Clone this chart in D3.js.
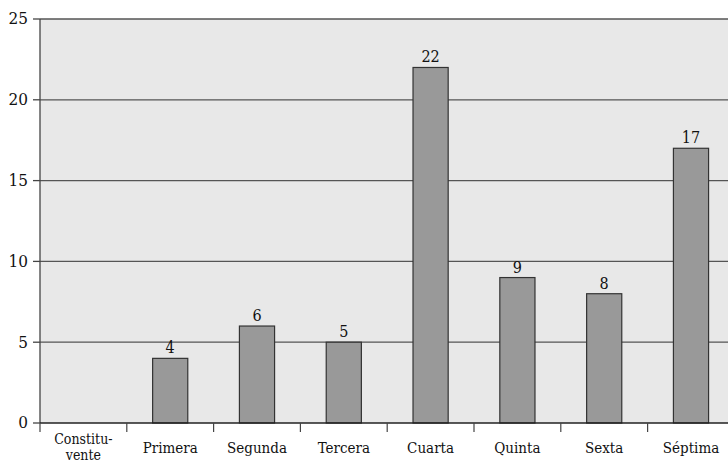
<!DOCTYPE html>
<html>
<head>
<meta charset="utf-8">
<script src="https://cdn.jsdelivr.net/npm/d3@7"></script>
<style>
  body { margin: 0; background: #fff; }
  svg text { font-stretch: condensed; }
</style>
</head>
<body>
<div id="chart"></div>
<script>
// Datos del gráfico
const categories = ["Constituvente", "Primera", "Segunda", "Tercera", "Cuarta", "Quinta", "Sexta", "Séptima"];
const categoryLabels = [["Constitu-", "vente"], ["Primera"], ["Segunda"], ["Tercera"], ["Cuarta"], ["Quinta"], ["Sexta"], ["Séptima"]];
const values = [0, 4, 6, 5, 22, 9, 8, 17];
const yTicks = [0, 5, 10, 15, 20, 25];

const width = 728, height = 463;
const margin = { top: 19, left: 40, bottom: 40 };
const plotRight = 734.4; // el área se corta a la derecha
const serif = "'DejaVu Serif Condensed', 'DejaVu Serif', serif";

const svg = d3.select("#chart").append("svg")
    .attr("width", width)
    .attr("height", height)
    .attr("font-family", serif);

const x = d3.scaleBand()
    .domain(categories)
    .range([margin.left, plotRight])
    .paddingInner(0.595)
    .paddingOuter(0.2975);

const step = x.step();

const y = d3.scaleLinear()
    .domain([0, 25])
    .range([height - margin.bottom, margin.top]);

// Fondo del área de trazado
svg.append("rect")
    .attr("x", margin.left)
    .attr("y", y(25))
    .attr("width", plotRight - margin.left)
    .attr("height", y(0) - y(25))
    .attr("fill", "#e8e8e8");

// Líneas de cuadrícula
svg.append("g")
    .selectAll("line")
    .data(yTicks.filter(d => d > 0))
    .join("line")
    .attr("x1", margin.left)
    .attr("x2", plotRight)
    .attr("y1", d => y(d))
    .attr("y2", d => y(d))
    .attr("stroke", "#555")
    .attr("stroke-width", 1.3);

const barData = values.map((v, i) => ({ cat: categories[i], v })).filter(d => d.v > 0);

// Barras
svg.append("g")
    .selectAll("rect")
    .data(barData)
    .join("rect")
    .attr("x", d => x(d.cat))
    .attr("y", d => y(d.v))
    .attr("width", x.bandwidth())
    .attr("height", d => y(0) - y(d.v))
    .attr("fill", "#999999")
    .attr("stroke", "#333")
    .attr("stroke-width", 1.2);

// Etiquetas de valor
svg.append("g")
    .selectAll("text")
    .data(barData)
    .join("text")
    .attr("x", d => x(d.cat) + x.bandwidth() / 2)
    .attr("y", d => y(d.v) - 5)
    .attr("text-anchor", "middle")
    .attr("font-size", 16)
    .attr("fill", "#111")
    .text(d => d.v);

// Eje Y
const yAxis = svg.append("g");
yAxis.append("line")
    .attr("x1", margin.left).attr("x2", margin.left)
    .attr("y1", y(25)).attr("y2", y(0))
    .attr("stroke", "#444").attr("stroke-width", 1.3);
yAxis.selectAll(".tick")
    .data(yTicks)
    .join("line")
    .attr("x1", margin.left - 7).attr("x2", margin.left)
    .attr("y1", d => y(d)).attr("y2", d => y(d))
    .attr("stroke", "#444").attr("stroke-width", 1.3);
yAxis.selectAll("text")
    .data(yTicks)
    .join("text")
    .attr("x", 28)
    .attr("y", d => y(d))
    .attr("dy", "0.32em")
    .attr("text-anchor", "end")
    .attr("font-size", 17)
    .attr("fill", "#111")
    .text(d => d);

// Eje X
const xAxis = svg.append("g");
xAxis.append("line")
    .attr("x1", margin.left).attr("x2", plotRight)
    .attr("y1", y(0)).attr("y2", y(0))
    .attr("stroke", "#222").attr("stroke-width", 1.5);
xAxis.selectAll(".tick")
    .data(d3.range(categories.length + 1))
    .join("line")
    .attr("x1", i => margin.left + i * step)
    .attr("x2", i => margin.left + i * step)
    .attr("y1", y(0))
    .attr("y2", y(0) + 9)
    .attr("stroke", "#444").attr("stroke-width", 1.2);

// Etiquetas de categoría (una línea de texto por renglón)
const labelLines = [];
categories.forEach((c, i) => {
    const lines = categoryLabels[i];
    const startY = lines.length > 1 ? 444 : 453;
    lines.forEach((ln, k) => labelLines.push({ c, ln, y: startY + k * 16, fs: lines.length > 1 ? 14 : 15 }));
});
xAxis.selectAll("text")
    .data(labelLines)
    .join("text")
    .attr("x", d => x(d.c) + x.bandwidth() / 2)
    .attr("y", d => d.y)
    .attr("text-anchor", "middle")
    .attr("font-size", d => d.fs)
    .attr("fill", "#111")
    .text(d => d.ln);
</script>
</body>
</html>
